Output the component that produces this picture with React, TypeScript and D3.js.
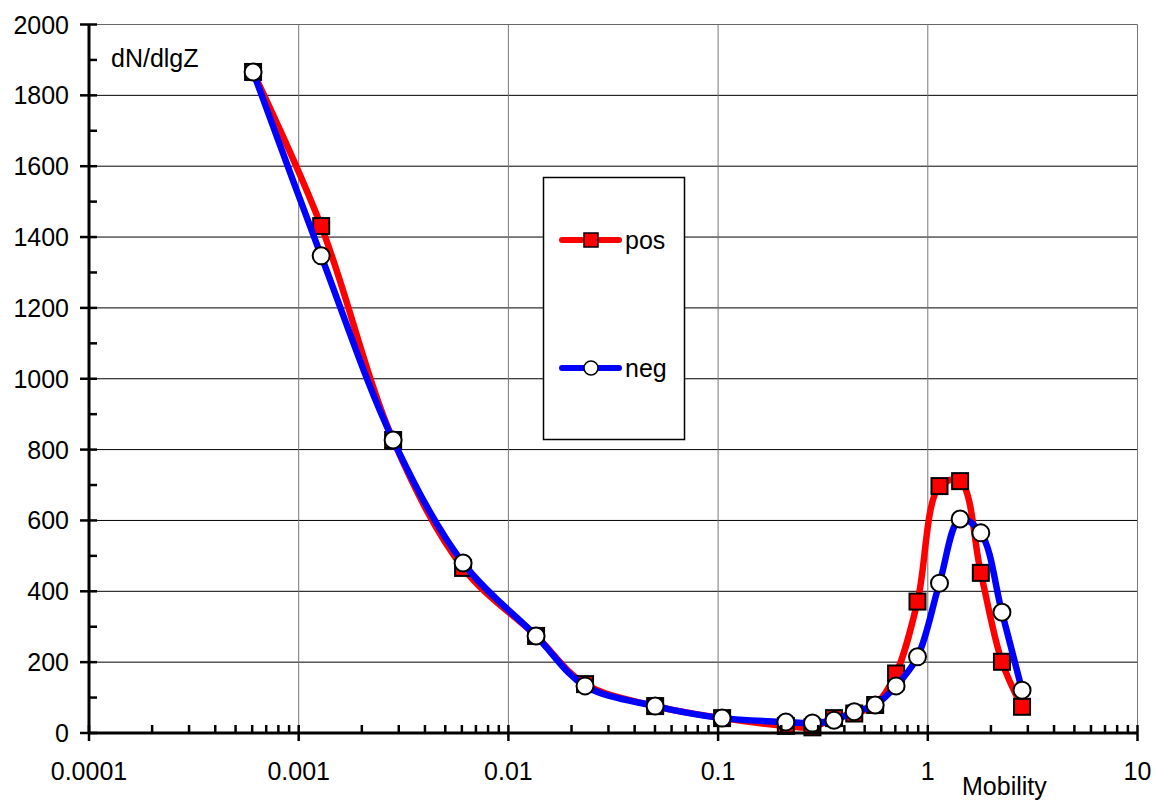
import React from "react";
import * as d3 from "d3";

const mobility = [0.000606, 0.00128, 0.00282, 0.00608, 0.01355, 0.0232, 0.0501, 0.1045, 0.2104, 0.2818, 0.357, 0.446, 0.561, 0.706, 0.893, 1.137, 1.426, 1.79, 2.257, 2.815];
const pos = [1866, 1431, 827, 466, 274, 138, 76, 42, 20, 16, 42, 55, 79, 168, 371, 697, 711, 452, 201, 74];
const neg = [1866, 1347, 827, 480, 274, 133, 76, 42, 31, 28, 36, 60, 79, 133, 215, 423, 604, 565, 341, 121];
const xTicks = [0.0001, 0.001, 0.01, 0.1, 1, 10];
const xTickLabels = ["0.0001", "0.001", "0.01", "0.1", "1", "10"];
const yTicks = [0, 200, 400, 600, 800, 1000, 1200, 1400, 1600, 1800, 2000];

const FONT = "'Liberation Sans', Arial, sans-serif";
const FS = 25;

export default function App() {
  const x = d3.scaleLog().domain([1e-4, 10]).range([89, 1137.5]);
  const y = d3.scaleLinear().domain([0, 2000]).range([733, 24.5]);
  const line = (vals: number[]) =>
    d3
      .line<number>()
      .x((_, i) => x(mobility[i]))
      .y((v) => y(v))
      .curve(d3.curveCatmullRom.alpha(0.5))(vals) as string;

  const minorX: number[] = [];
  for (let e = -4; e < 1; e++) for (let k = 2; k <= 9; k++) minorX.push(k * Math.pow(10, e));
  const minorY: number[] = [];
  for (let v = 100; v < 2000; v += 200) minorY.push(v);

  const sq = 16;
  return (
    <svg width={1156} height={802} style={{ position: "absolute", left: 0, top: 0, background: "#fff" }}>
      {yTicks.slice(1).map((t) => (
        <line key={"hg" + t} x1={89} x2={1137.5} y1={y(t)} y2={y(t)} stroke={t === 2000 ? "#666" : "#000"} strokeWidth={1} />
      ))}
      {xTicks.slice(1).map((t) => (
        <line key={"vg" + t} x1={x(t)} x2={x(t)} y1={y(2000)} y2={y(0)} stroke="#777" strokeWidth={1} />
      ))}
      <rect x={543.5} y={177.5} width={141} height={262} fill="#fff" stroke="#000" strokeWidth={1.5} />
      <line x1={562} x2={619} y1={240} y2={240} stroke="#ff0000" strokeWidth={6} strokeLinecap="round" />
      <rect x={591 - 7} y={240 - 7} width={14} height={14} fill="#ff0000" stroke="#000" strokeWidth={1.5} />
      <text x={625} y={249} fontFamily={FONT} fontSize={FS} fill="#000">pos</text>
      <line x1={562} x2={619} y1={368} y2={368} stroke="#0000ff" strokeWidth={6} strokeLinecap="round" />
      <circle cx={591} cy={368} r={7} fill="#fff" stroke="#000" strokeWidth={1.5} />
      <text x={625} y={377} fontFamily={FONT} fontSize={FS} fill="#000">neg</text>

      <path d={line(pos)} fill="none" stroke="#ff0000" strokeWidth={6.5} strokeLinejoin="round" />
      {pos.map((v, i) => (
        <rect key={"p" + i} x={x(mobility[i]) - sq / 2} y={y(v) - sq / 2} width={sq} height={sq} fill="#ff0000" stroke="#000" strokeWidth={2} />
      ))}
      <path d={line(neg)} fill="none" stroke="#0000ff" strokeWidth={6.5} strokeLinejoin="round" />
      {neg.map((v, i) => (
        <circle key={"n" + i} cx={x(mobility[i])} cy={y(v)} r={8.5} fill="#fff" stroke="#000" strokeWidth={2} />
      ))}

      <line x1={89} x2={89} y1={y(2000)} y2={y(0) + 1} stroke="#000" strokeWidth={3} />
      {yTicks.map((t) => (
        <g key={"yt" + t}>
          <line x1={80} x2={97} y1={y(t)} y2={y(t)} stroke="#000" strokeWidth={2.5} />
          <text x={69} y={y(t)} dy="0.36em" textAnchor="end" fontFamily={FONT} fontSize={FS} fill="#000">{t}</text>
        </g>
      ))}
      {minorY.map((t) => (
        <line key={"ym" + t} x1={89} x2={97} y1={y(t)} y2={y(t)} stroke="#000" strokeWidth={2.5} />
      ))}
      <line x1={89} x2={1138} y1={733} y2={733} stroke="#000" strokeWidth={3} />
      {xTicks.map((t, i) => (
        <g key={"xt" + t}>
          <line x1={x(t)} x2={x(t)} y1={725} y2={741} stroke="#000" strokeWidth={2.5} />
          <text x={x(t)} y={780} textAnchor="middle" fontFamily={FONT} fontSize={FS} fill="#000">{xTickLabels[i]}</text>
        </g>
      ))}
      {minorX.map((t) => (
        <line key={"xm" + t} x1={x(t)} x2={x(t)} y1={725} y2={733} stroke="#000" strokeWidth={2.5} />
      ))}
      <text x={111} y={67} fontFamily={FONT} fontSize={FS} fill="#000">dN/dlgZ</text>
      <text x={962} y={795} fontFamily={FONT} fontSize={FS} fill="#000">Mobility</text>
    </svg>
  );
}
